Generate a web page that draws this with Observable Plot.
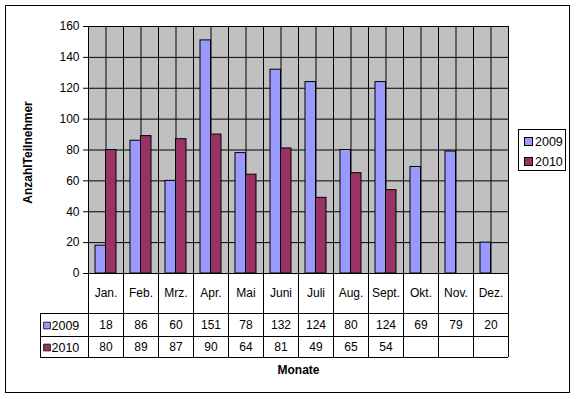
<!DOCTYPE html>
<html>
<head>
<meta charset="utf-8">
<script src="https://cdn.jsdelivr.net/npm/d3@7"></script>
<script src="https://cdn.jsdelivr.net/npm/@observablehq/plot@0.6"></script>
<style>
  html, body { margin: 0; padding: 0; background: #fff; }
  #wrap { position: relative; width: 577px; height: 399px; font-family: "Liberation Sans", Arial, sans-serif; }
  #border { position: absolute; left: 5px; top: 5px; width: 563px; height: 386px; border: 1px solid #000; pointer-events: none; }
  #legend { position: absolute; left: 518px; top: 129px; width: 46px; height: 40px; border: 1px solid #000; background: #fff; font-size: 12.5px; }
  .item { position: absolute; left: 5px; height: 14px; line-height: 14px; }
  .key { display: inline-block; width: 7px; height: 7px; border: 1px solid #000; margin-right: 2px; vertical-align: 0px; }
</style>
</head>
<body>
<div id="wrap">
  <div id="chart"></div>
  <div id="legend">
    <div class="item" style="top:5px"><span class="key" style="background:#9999FF"></span>2009</div>
    <div class="item" style="top:25px"><span class="key" style="background:#993366"></span>2010</div>
  </div>
  <div id="border"></div>
</div>
<script>
const months = ["Jan.", "Feb.", "Mrz.", "Apr.", "Mai", "Juni", "Juli", "Aug.", "Sept.", "Okt.", "Nov.", "Dez."];
const series = ["2009", "2010"];
const values2009 = [18, 86, 60, 151, 78, 132, 124, 80, 124, 69, 79, 20];
const values2010 = [80, 89, 87, 90, 64, 81, 49, 65, 54, null, null, null];
const yTicks = [0, 20, 40, 60, 80, 100, 120, 140, 160];
const colors = ["#9999FF", "#993366"];

const rows = months.map((m, i) => ({month: m, v2009: values2009[i], v2010: values2010[i]}));

// pixel layout helpers (the y scale range is fixed, so pixels can be turned into data units)
const plotTop = 26, plotBottom = 273;
const yPix = d3.scaleLinear([0, 160], [plotBottom, plotTop]);
const Y = py => yPix.invert(py);
const half = 17.5;

const chart = Plot.plot({
  width: 577,
  height: 399,
  marginLeft: 88,
  marginRight: 69,
  marginTop: plotTop,
  marginBottom: 399 - plotBottom,
  style: {background: "transparent", color: "#000", fontFamily: "Liberation Sans, Arial, sans-serif", fontSize: "12px", overflow: "visible"},
  x: {domain: months, padding: 0, axis: null},
  y: {domain: [0, 160], range: [plotBottom, plotTop], axis: null},
  marks: [
    Plot.frame({fill: "#C0C0C0", stroke: null}),
    // horizontal gridlines
    Plot.ruleY(yTicks, {stroke: "#000", strokeWidth: 1}),
    // vertical gridlines at month centers
    Plot.ruleX(months, {x: d => d, y1: 0, y2: 160, stroke: "#000"}),
    // month boundaries, continuing through the data table
    Plot.ruleX(months, {x: d => d, dx: -half, y1: 160, y2: Y(357), stroke: "#000"}),
    Plot.ruleX(["Dez."], {x: d => d, dx: half, y1: 160, y2: Y(357), stroke: "#000"}),
    // bars
    Plot.barY(rows, {x: "month", y: "v2009", fill: colors[0], stroke: "#000", strokeWidth: 1, insetLeft: 7, insetRight: half}),
    Plot.barY(rows.filter(d => d.v2010 != null), {x: "month", y: "v2010", fill: colors[1], stroke: "#000", strokeWidth: 1, insetLeft: half, insetRight: 7}),
    // y axis
    Plot.axisY({ticks: yTicks, tickSize: 5, tickPadding: 4, fontSize: 12, label: null, stroke: "#000"}),
    Plot.ruleY([0], {stroke: "#000"}),
    // data table lines
    Plot.ruleY([Y(313), Y(336), Y(357)], {y: d => d, insetLeft: -48, stroke: "#000"}),
    Plot.ruleX(["Jan."], {x: d => d, dx: 40 - 105.5, y1: Y(313), y2: Y(357), stroke: "#000"}),
    // data table text
    Plot.text(months, {x: d => d, y: () => Y(293), text: d => d, fontSize: 12}),
    Plot.text(rows, {x: "month", y: () => Y(325), text: "v2009", fontSize: 12}),
    Plot.text(rows.filter(d => d.v2010 != null), {x: "month", y: () => Y(347), text: "v2010", fontSize: 12}),
    Plot.dot(series, {y: (d, i) => Y(i === 0 ? 325 : 347), frameAnchor: "left", dx: 46.5 - 88, symbol: "square", r: 3.8, fill: (d, i) => colors[i], stroke: "#000", strokeWidth: 0.8}),
    Plot.text(series, {y: (d, i) => Y(i === 0 ? 325 : 347), text: d => d, frameAnchor: "left", dx: 51 - 88, textAnchor: "start", fontSize: 12.5}),
    // axis titles
    Plot.text(["Monate"], {y: () => Y(370), text: d => d, frameAnchor: "middle", fontWeight: "bold", fontSize: 12}),
    Plot.text(["AnzahlTeilnehmer"], {y: () => Y(152), text: d => d, frameAnchor: "left", textAnchor: "middle", dx: 28 - 88, rotate: -90, fontWeight: "bold", fontSize: 12})
  ]
});
document.getElementById("chart").appendChild(chart);
</script>
</body>
</html>
